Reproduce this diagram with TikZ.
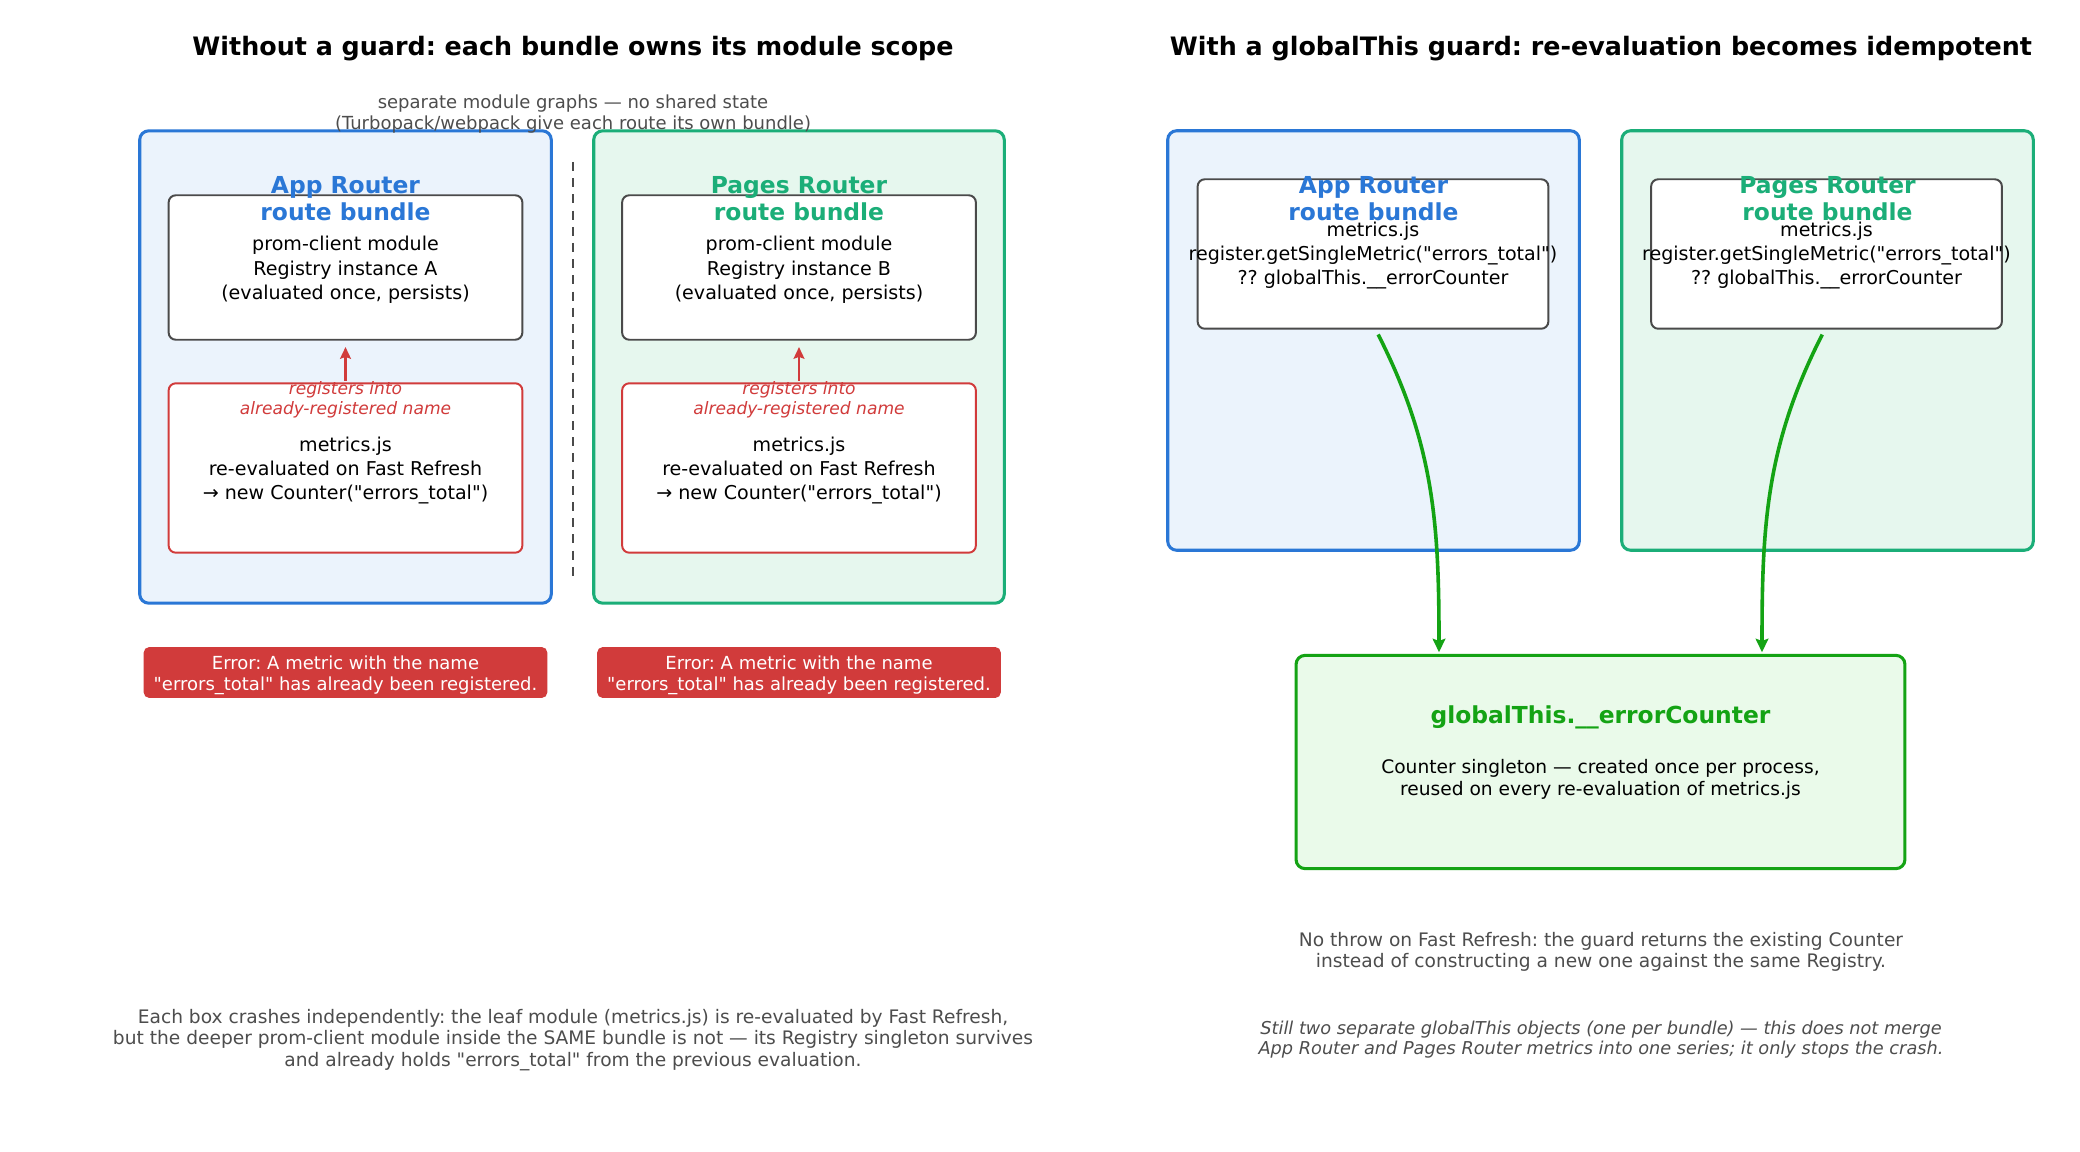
\documentclass[tikz,border=0pt]{standalone}
\usepackage{fontspec}
\setmainfont{DejaVu Sans}
\newfontfamily\plainfont{DejaVu Sans}
\usetikzlibrary{arrows.meta}
\definecolor{cblue}{HTML}{2A77D6}
\definecolor{cbluefill}{HTML}{EBF3FC}
\definecolor{cteal}{HTML}{1BAE78}
\definecolor{ctealfill}{HTML}{E6F7EE}
\definecolor{cred}{HTML}{D13B3B}
\definecolor{cgreen}{HTML}{14A314}
\definecolor{cgreenfill}{HTML}{EAFAEA}
\definecolor{cgray}{HTML}{4D4D4D}
\definecolor{cdark}{HTML}{4A4A4A}
\def\u{0.55385pt}
\def\dq{{\plainfont"}}
\def\us{\char95\relax}
\frenchspacing
\tikzset{
  outerbox/.style={draw=#1, line width=1.7pt, rounded corners=5pt, inner sep=0pt},
  innerbox/.style={draw=cdark, fill=white, line width=1.1pt, rounded corners=4pt, inner sep=0pt},
  redbox/.style={draw=cred, fill=white, line width=1.1pt, rounded corners=4pt, inner sep=0pt},
  errbox/.style={fill=cred, text=white, rounded corners=3pt, inner sep=0pt, align=center, font=\fontsize{10}{11.6}\selectfont},
  boxtext/.style={align=center, inner sep=0pt, font=\fontsize{10.6}{13.6}\selectfont},
  ttl/.style={font=\fontsize{14.1}{17}\selectfont\bfseries, text=black},
  rtitle/.style={font=\fontsize{13}{15}\selectfont\bfseries, text=#1, align=center, inner sep=0pt},
  note/.style={font=\fontsize{10}{11.2}\selectfont, text=cgray, align=center, inner sep=0pt},
  body/.style={font=\fontsize{10.35}{11.8}\selectfont, text=cgray, align=center, inner sep=0pt},
  redlab/.style={font=\fontsize{9.5}{11}\selectfont\itshape, text=cred, align=center, inner sep=0pt},
  redarrow/.style={cred, line width=1.6pt, -{Stealth[length=6.5pt,width=6pt,inset=1pt]}},
  greenarrow/.style={cgreen, line width=2pt, -{Stealth[length=7.5pt,width=7pt,inset=1.2pt]}},
}
\begin{document}
\begin{tikzpicture}[x=0.0076923in, y=-0.0076923in]
\useasboundingbox[fill=white] (0,0) rectangle (2080,1152);

% titles
\node[ttl] (tl) at (573,49) {Without a guard: each bundle owns its module scope};
\node[ttl] (tr) at (1601,49) {With a globalThis guard: re-evaluation becomes idempotent};

% left panel
\node[outerbox=cblue, fill=cbluefill, minimum width=413*\u, minimum height=474*\u] (lapp) at (345.5,367) {};
\node[outerbox=cteal, fill=ctealfill, minimum width=412*\u, minimum height=474*\u] (lpag) at (799,367) {};
\node[note] (sub) at (573,114) {separate module graphs — no shared state\\(Turbopack/webpack give each route its own bundle)};
\draw[cdark, line width=1.1pt, dash pattern=on 5pt off 4pt] (573,162) coordinate (d1) -- (573,576) coordinate (d2);

\node[innerbox, minimum width=355*\u, minimum height=145*\u] (promA) at (345.5,267.5) {};
\node[innerbox, minimum width=355*\u, minimum height=145*\u] (promB) at (799,267.5) {};
\node[boxtext] (promAt) at (345.5,270) {prom-client module\\Registry instance A\\(evaluated once, persists)};
\node[boxtext] (promBt) at (799,270) {prom-client module\\Registry instance B\\(evaluated once, persists)};
\node[rtitle=cblue] (lappt) at (345.5,199) {App Router\\route bundle};
\node[rtitle=cteal] (lpagt) at (799,199) {Pages Router\\route bundle};

\node[redbox, minimum width=355*\u, minimum height=170*\u] (metA) at (345.5,468) {};
\node[redbox, minimum width=355*\u, minimum height=170*\u] (metB) at (799,468) {};
\node[boxtext] (metAt) at (345.5,470.5) {metrics.js\\re-evaluated on Fast Refresh\\→ new Counter(\dq errors\us total\dq)};
\node[boxtext] (metBt) at (799,470.5) {metrics.js\\re-evaluated on Fast Refresh\\→ new Counter(\dq errors\us total\dq)};
\draw[redarrow, shorten >=3.5pt] ([yshift=1pt]metA.north) -- (promA.south);
\draw[redarrow, shorten >=3.5pt] ([yshift=1pt]metB.north) -- (promB.south);
\node[redlab] (rlA) at (345.5,399.5) {registers into\\already-registered name};
\node[redlab] (rlB) at (799,399.5) {registers into\\already-registered name};

\node[errbox, minimum width=405*\u, minimum height=51*\u] (errA) at (345.5,672.5) {};
\node[errbox, minimum width=405*\u, minimum height=51*\u] (errB) at (799,672.5) {};
\node[errbox, fill=none] (errAt) at (345.5,675) {Error: A metric with the name\\\dq errors\us total\dq{} has already been registered.};
\node[errbox, fill=none] (errBt) at (799,675) {Error: A metric with the name\\\dq errors\us total\dq{} has already been registered.};

\node[body] (bl) at (573,1040) {Each box crashes independently: the leaf module (metrics.js) is re-evaluated by Fast Refresh,\\but the deeper prom-client module inside the SAME bundle is not — its Registry singleton survives\\and already holds \dq errors\us total\dq{} from the previous evaluation.};

% right panel
\node[outerbox=cblue, fill=cbluefill, minimum width=413*\u, minimum height=421*\u] (rapp) at (1373.5,340.5) {};
\node[outerbox=cteal, fill=ctealfill, minimum width=413*\u, minimum height=421*\u] (rpag) at (1827.5,340.5) {};
\node[innerbox, minimum width=352*\u, minimum height=150*\u] (inA) at (1373,254) {};
\node[innerbox, minimum width=352*\u, minimum height=150*\u] (inB) at (1826.5,254) {};
\node[boxtext] (inAt) at (1373,255.5) {metrics.js\\register.getSingleMetric(\dq errors\us total\dq)\\?? globalThis.\us\us errorCounter};
\node[boxtext] (inBt) at (1826.5,255.5) {metrics.js\\register.getSingleMetric(\dq errors\us total\dq)\\?? globalThis.\us\us errorCounter};
\node[rtitle=cblue] (rappt) at (1373.5,199) {App Router\\route bundle};
\node[rtitle=cteal] (rpagt) at (1827.5,199) {Pages Router\\route bundle};

\node[draw=cgreen, fill=cgreenfill, line width=1.7pt, rounded corners=5pt, inner sep=0pt, minimum width=611*\u, minimum height=214*\u] (glob) at (1600.5,762) {};
\node[font=\fontsize{13}{15}\selectfont\bfseries, text=cgreen, inner sep=0pt] (globt) at (1600.5,717.5) {globalThis.\us\us errorCounter};
\node[boxtext, font=\fontsize{10.35}{12.6}\selectfont] (globd) at (1600.5,779.5) {Counter singleton — created once per process,\\reused on every re-evaluation of metrics.js};
\coordinate (gA) at (1439,655);
\coordinate (gB) at (1762,655);
\draw[greenarrow, shorten <=3pt, shorten >=1.5pt] ([xshift=1.5pt]inA.south) to[out=-63,in=90] (gA);
\draw[greenarrow, shorten <=3pt, shorten >=1.5pt] ([xshift=-1pt]inB.south) to[out=-117,in=90] (gB);

\node[body] (rn) at (1601,952) {No throw on Fast Refresh: the guard returns the existing Counter\\instead of constructing a new one against the same Registry.};
\node[body, font=\fontsize{9.85}{11.5}\selectfont\itshape] (rit) at (1601,1039.5) {Still two separate globalThis objects (one per bundle) — this does not merge\\App Router and Pages Router metrics into one series; it only stops the crash.};
\end{tikzpicture}
\end{document}
